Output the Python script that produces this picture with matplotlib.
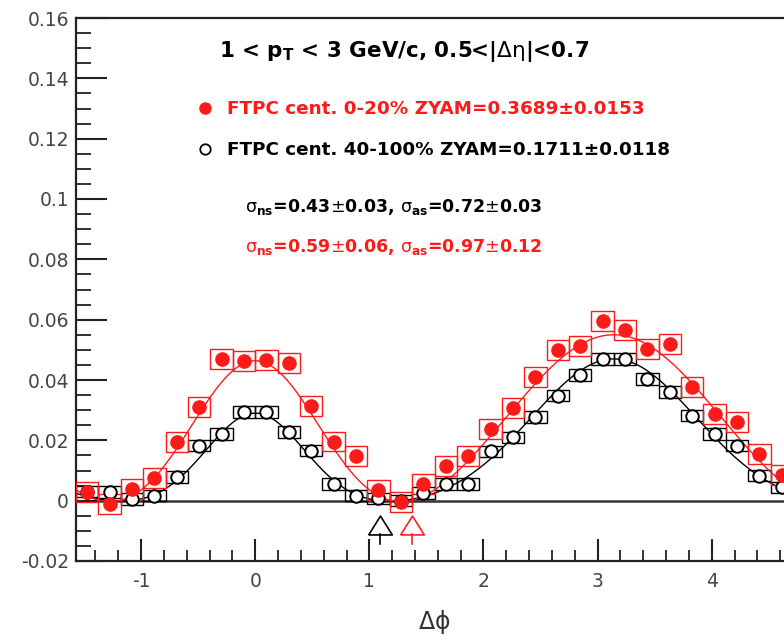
import numpy as np
import matplotlib
matplotlib.use("Agg")
import matplotlib.pyplot as plt
from matplotlib.ticker import MultipleLocator, FuncFormatter
from matplotlib.lines import Line2D

plt.rcParams['font.family'] = ['DejaVu Sans']
plt.rcParams['mathtext.fontset'] = 'dejavusans'

# ---- data (32 bins in delta-phi from -pi/2 to 3pi/2) ----
n_bins = 32
bin_lo, bin_hi = -np.pi / 2, 3 * np.pi / 2
red_vals = [0.0030, -0.0011, 0.0039, 0.0075, 0.0194, 0.0310, 0.0470, 0.0464,
            0.0466, 0.0456, 0.0315, 0.0196, 0.0147, 0.0035, -0.0005, 0.0055,
            0.0116, 0.0148, 0.0238, 0.0307, 0.0410, 0.0500, 0.0514, 0.0597,
            0.0567, 0.0503, 0.0520, 0.0376, 0.0288, 0.0260, 0.0155, 0.0085]
black_vals = [0.0030, 0.0029, 0.0006, 0.0017, 0.0079, 0.0182, 0.0221, 0.0294,
              0.0294, 0.0227, 0.0166, 0.0055, 0.0017, 0.0008, 0.0000, 0.0025,
              0.0055, 0.0055, 0.0163, 0.0210, 0.0277, 0.0348, 0.0417, 0.0470,
              0.0470, 0.0404, 0.0360, 0.0282, 0.0221, 0.0182, 0.0083, 0.0044]
red_stat = 0.0018
black_stat = 0.0010
red_sys = 0.0033
black_sys = 0.0019

# fit parameters: [baseline, A_ns, sigma_ns, A_as, sigma_as]
red_fit = [-0.0179, 0.0635, 0.59, 0.0729, 0.97]
black_fit = [-0.0021, 0.0311, 0.43, 0.0491, 0.72]

# ZYAM positions (arrows)
zyam_pos = [1.095, 1.372]
zyam_colors = ['black', '#ff2020']

title = r'1 < p$_{\mathbf{T}}$ < 3 GeV/c, 0.5<|$\mathrm{\Delta\eta}$|<0.7'
label_red = 'FTPC cent. 0-20% ZYAM=0.3689\u00b10.0153'
label_black = 'FTPC cent. 40-100% ZYAM=0.1711\u00b10.0118'
sigma_black = r'$\mathrm{\sigma}_{\mathbf{ns}}$=0.43$\pm$0.03, $\mathrm{\sigma}_{\mathbf{as}}$=0.72$\pm$0.03'
sigma_red = r'$\mathrm{\sigma}_{\mathbf{ns}}$=0.59$\pm$0.06, $\mathrm{\sigma}_{\mathbf{as}}$=0.97$\pm$0.12'
xlabel = r'$\mathrm{\Delta\phi}$'

RED = '#ff1a1a'

edges = np.linspace(bin_lo, bin_hi, n_bins + 1)
centers = 0.5 * (edges[:-1] + edges[1:])
bw = edges[1] - edges[0]
red_vals = np.array(red_vals)
black_vals = np.array(black_vals)


def fit_curve(x, p):
    b, a1, s1, a2, s2 = p
    y = np.full_like(x, b)
    for c in (0.0, 2 * np.pi, -2 * np.pi):
        y += a1 * np.exp(-(x - c) ** 2 / (2 * s1 ** 2))
    for c in (np.pi, -np.pi, 3 * np.pi):
        y += a2 * np.exp(-(x - c) ** 2 / (2 * s2 ** 2))
    return y


W, H = 784, 640
fig = plt.figure(figsize=(W / 100, H / 100), dpi=100)
ax = fig.add_axes([76 / W, 1 - 561 / H, (793 - 76) / W, (561 - 18) / H])


def px(x, y):
    return (x / W, 1 - y / H)


ax.set_xlim(bin_lo, bin_hi)
ax.set_ylim(-0.02, 0.16)

# zero line
ax.axhline(0, color='#333333', lw=1.8, zorder=1)

# systematic boxes
ax.bar(centers, 2 * black_sys, bottom=black_vals - black_sys, width=bw,
       fill=False, edgecolor='black', linewidth=1.0, zorder=2)
ax.bar(centers, 2 * red_sys, bottom=red_vals - red_sys, width=bw,
       fill=False, edgecolor=RED, linewidth=1.0, zorder=3)

# fit curves
xf = np.linspace(bin_lo, bin_hi, 400)
ax.plot(xf, fit_curve(xf, black_fit), color='black', lw=1.0, zorder=2)
ax.plot(xf, fit_curve(xf, red_fit), color=RED, lw=1.0, zorder=3)

# points
ax.errorbar(centers, black_vals, yerr=black_stat, fmt='o', mfc='white', mec='black',
            mew=1.4, ms=9, ecolor='black', elinewidth=1.0, capsize=0, zorder=4)
ax.errorbar(centers, red_vals, yerr=red_stat, fmt='o', mfc=RED, mec=RED,
            ms=9.5, ecolor=RED, elinewidth=1.2, capsize=0, zorder=5)

# ZYAM arrows
tri = [(-0.5, -0.4), (0.5, -0.4), (0.0, 0.4), (-0.5, -0.4)]
for xp, col in zip(zyam_pos, zyam_colors):
    ax.plot([xp], [-0.0081], marker=tri, ms=17, mfc='none', mec=col, mew=1.2,
            linestyle='none', zorder=6, clip_on=False)
    ax.plot([xp, xp], [-0.0110, -0.0145], color=col, lw=1.2, zorder=6)

# axes styling
for s in ax.spines.values():
    s.set_color('#222222')
    s.set_linewidth(1.6)
ax.xaxis.set_major_locator(MultipleLocator(1))
ax.xaxis.set_minor_locator(MultipleLocator(0.2))
ax.yaxis.set_major_locator(MultipleLocator(0.02))
ax.yaxis.set_minor_locator(MultipleLocator(0.005))


def yfmt(v, pos):
    s = ('%.2f' % v).rstrip('0').rstrip('.')
    if s in ('-0', ''):
        s = '0'
    return s


ax.yaxis.set_major_formatter(FuncFormatter(yfmt))
ax.xaxis.set_major_formatter(FuncFormatter(lambda v, p: '%d' % round(v)))
ax.tick_params(axis='both', which='both', direction='in', colors='#222222',
               labelcolor='#444444', labelsize=13.5, top=False, right=False)
ax.tick_params(axis='y', which='major', length=22, width=1.5, pad=5)
ax.tick_params(axis='y', which='minor', length=11, width=1.3)
ax.tick_params(axis='x', which='major', length=16, width=1.5, pad=8)
ax.tick_params(axis='x', which='minor', length=8, width=1.3)

ax.set_xlabel(xlabel, fontsize=17, color='#333333', labelpad=12)

# title
fig.text(*px(219, 52), title, fontsize=15.5, fontweight='bold',
         ha='left', va='center')

# legend
h_red = Line2D([], [], marker='o', color=RED, mfc=RED, ms=8, linestyle='none')
h_black = Line2D([], [], marker='o', color='black', mfc='white', mew=1.3, ms=7.5,
                 linestyle='none')
leg = ax.legend([h_red, h_black], [label_red, label_black], frameon=False,
                loc='upper left', bbox_to_anchor=px(199.5, 100.5),
                bbox_transform=fig.transFigure,
                prop={'weight': 'bold', 'size': 13.2}, handletextpad=0.9,
                labelspacing=1.25, handlelength=0.6, borderaxespad=0, borderpad=0)
leg.get_texts()[0].set_color(RED)
leg.get_texts()[1].set_color('black')

fig.text(*px(245, 207), sigma_black, fontsize=12.5, fontweight='bold',
         color='black', ha='left', va='center')
fig.text(*px(245, 247), sigma_red, fontsize=12.5, fontweight='bold',
         color=RED, ha='left', va='center')

fig.savefig('out.png', dpi=100)
